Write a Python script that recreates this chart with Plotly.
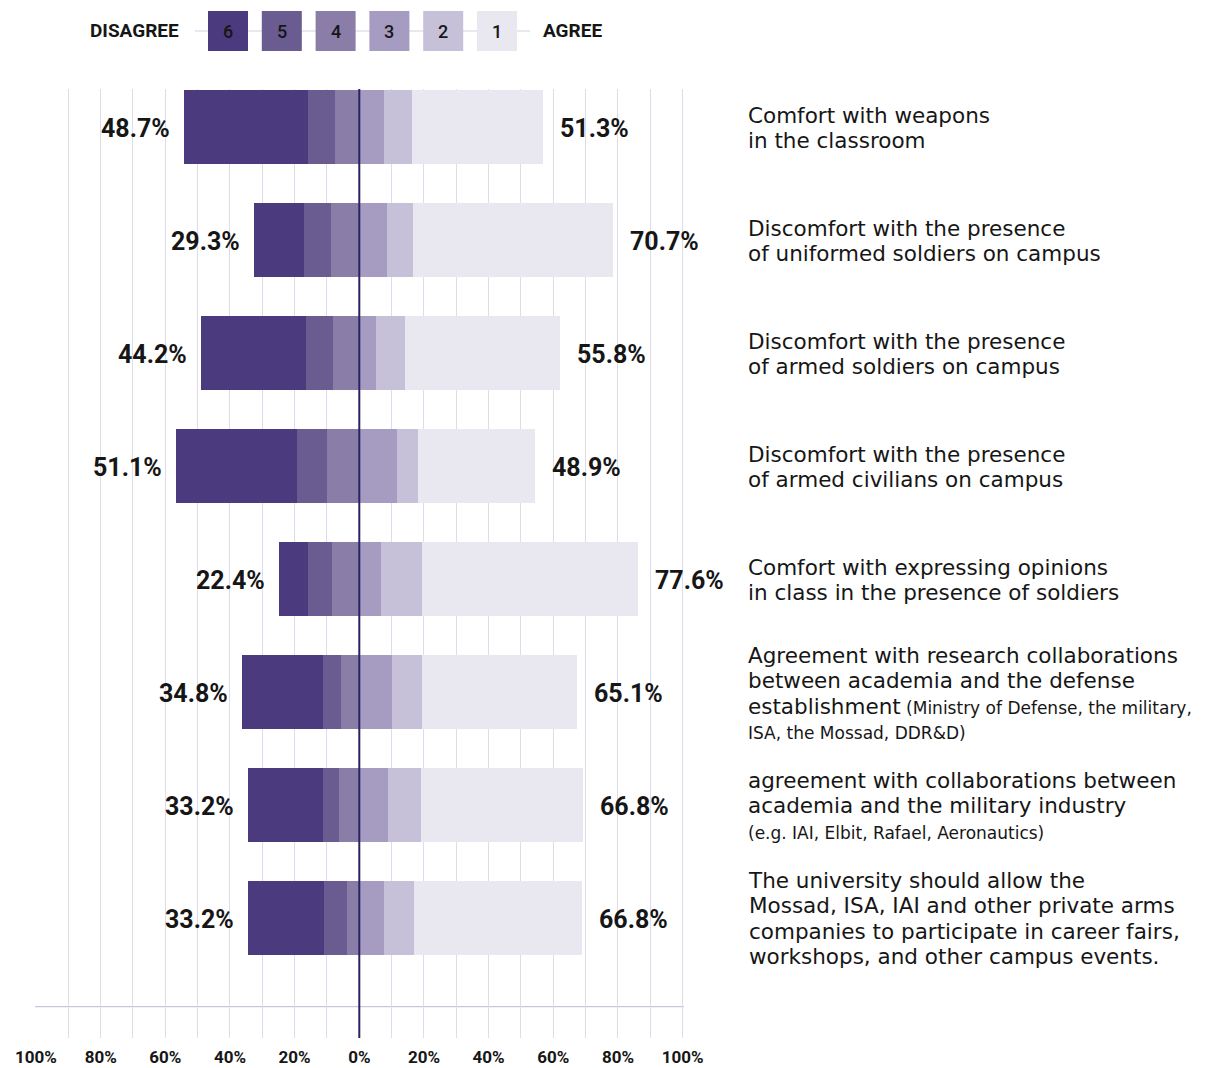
import plotly.graph_objects as go

# ---------------- data ----------------
levels = ["6", "5", "4", "3", "2", "1"]
colors = ["#4b3b7e", "#6a5b91", "#8a7ea8", "#a69bc0", "#c7c0d9", "#e9e7f0"]

# segment widths (percent) as drawn, top item first
seg6 = [34.5, 13.8, 29.4, 33.7, 8.2, 22.4, 20.7, 21.2]
seg5 = [7.3, 7.5, 7.5, 8.4, 6.6, 5.1, 4.6, 6.3]
seg4 = [6.9, 8.0, 7.3, 9.0, 7.6, 5.1, 5.6, 3.5]
seg3 = [6.9, 7.7, 4.6, 10.5, 6.1, 9.1, 8.1, 6.9]
seg2 = [7.7, 7.3, 8.1, 5.8, 11.5, 8.4, 9.0, 8.2]
seg1 = [36.7, 55.7, 43.1, 32.6, 60.0, 43.1, 45.1, 46.9]

disagree_pct = [48.7, 29.3, 44.2, 51.1, 22.4, 34.8, 33.2, 33.2]
agree_pct = [51.3, 70.7, 55.8, 48.9, 77.6, 65.1, 66.8, 66.8]

# each statement: list of (main text, small note) per line
statements = [
    [("Comfort with weapons", ""), ("in the classroom", "")],
    [("Discomfort with the presence", ""), ("of uniformed soldiers on campus", "")],
    [("Discomfort with the presence", ""), ("of armed soldiers on campus", "")],
    [("Discomfort with the presence", ""), ("of armed civilians on campus", "")],
    [("Comfort with expressing opinions", ""), ("in class in the presence of soldiers", "")],
    [("Agreement with research collaborations", ""), ("between academia and the defense", ""),
     ("establishment", " (Ministry of Defense, the military,"), ("", "ISA, the Mossad, DDR&D)")],
    [("agreement with collaborations between", ""), ("academia and the military industry", ""),
     ("", "(e.g. IAI, Elbit, Rafael, Aeronautics)")],
    [("The university should allow the", ""), ("Mossad, ISA, IAI and other private arms", ""),
     ("companies to participate in career fairs,", ""), ("workshops, and other campus events.", "")],
]

axis_ticks = [-100, -90, -80, -70, -60, -50, -40, -30, -20, -10, 0,
              10, 20, 30, 40, 50, 60, 70, 80, 90, 100]

# ---------------- layout constants ----------------
W, H = 1215, 1068
ML, MR, MT, MB = 35, 531, 89, 30
PW, PH = W - ML - MR, H - MT - MB
FONT = "Roboto"
SFONT = "DejaVu Sans"
TXT = "#161616"
BIG = 21.5       # main statement text size
SMALL = 17       # small note size
BASE = 19.6      # sets line spacing (1.3 * BASE)


def px2paper_x(px):
    return (px - ML) / PW


def px2paper_y(py):
    return (H - MB - py) / PH


def statement_html(lines):
    out = []
    for main, note in lines:
        s = ""
        if main:
            s += f"<span style='font-size:{BIG}px'>{main}</span>"
        if note:
            s += f"<span style='font-size:{SMALL}px'>{note}</span>"
        out.append(s)
    return "<br>".join(out)


ypos = list(range(len(seg6)))

fig = go.Figure()
neg_series = [(seg4, 2), (seg5, 1), (seg6, 0)]
pos_series = [(seg3, 3), (seg2, 4), (seg1, 5)]
for vals, ci in neg_series:
    fig.add_trace(go.Bar(y=ypos, x=[-v for v in vals], orientation="h", width=0.661,
                         marker=dict(color=colors[ci], line=dict(width=0)),
                         name=levels[ci], showlegend=False, hoverinfo="skip"))
for vals, ci in pos_series:
    fig.add_trace(go.Bar(y=ypos, x=vals, orientation="h", width=0.661,
                         marker=dict(color=colors[ci], line=dict(width=0)),
                         name=levels[ci], showlegend=False, hoverinfo="skip"))

# invisible trace to activate the grid / tick axis
fig.add_trace(go.Scatter(x=[-100, 100], y=[0, 0], xaxis="x2", mode="markers",
                         marker=dict(opacity=0), showlegend=False, hoverinfo="skip"))

annotations = []
for i in ypos:
    left_edge = -(seg4[i] + seg5[i] + seg6[i])
    right_edge = seg3[i] + seg2[i] + seg1[i]
    annotations.append(dict(x=left_edge, y=i, xref="x", yref="y", xanchor="right",
                            yanchor="middle", xshift=-12, yshift=-2, showarrow=False,
                            text=f"{disagree_pct[i]:.1f}%",
                            font=dict(family=FONT, size=25, color=TXT, weight="bold")))
    annotations.append(dict(x=right_edge, y=i, xref="x", yref="y", xanchor="left",
                            yanchor="middle", xshift=15, yshift=-2, showarrow=False,
                            text=f"{agree_pct[i]:.1f}%",
                            font=dict(family=FONT, size=25, color=TXT, weight="bold")))
    annotations.append(dict(x=px2paper_x(746), y=i, xref="paper", yref="y",
                            xanchor="left", yanchor="middle", showarrow=False,
                            yshift=-1, text=statement_html(statements[i]), align="left",
                            font=dict(family=SFONT, size=BASE, color=TXT)))

# legend
shapes = []
leg_y0, leg_y1 = 11, 51
shapes.append(dict(type="line", xref="paper", yref="paper",
                   x0=px2paper_x(195), x1=px2paper_x(530),
                   y0=px2paper_y(31), y1=px2paper_y(31),
                   line=dict(color="#d3cfe2", width=1.2), layer="below"))
for j, (lab, col) in enumerate(zip(levels, colors)):
    x0 = 208 + j * 53.8
    shapes.append(dict(type="rect", xref="paper", yref="paper",
                       x0=px2paper_x(x0), x1=px2paper_x(x0 + 40),
                       y0=px2paper_y(leg_y1), y1=px2paper_y(leg_y0),
                       fillcolor=col, line=dict(width=0), layer="above"))
    annotations.append(dict(x=px2paper_x(x0 + 20), y=px2paper_y(31), xref="paper",
                            yref="paper", xanchor="center", yanchor="middle",
                            showarrow=False, text=lab,
                            font=dict(family=FONT, size=18, color=TXT, weight=500)))
annotations.append(dict(x=px2paper_x(181), y=px2paper_y(30), xref="paper", yref="paper",
                        xanchor="right", yanchor="middle", showarrow=False, text="DISAGREE",
                        font=dict(family=FONT, size=19, color=TXT, weight="bold")))
annotations.append(dict(x=px2paper_x(541), y=px2paper_y(30), xref="paper", yref="paper",
                        xanchor="left", yanchor="middle", showarrow=False, text="AGREE",
                        font=dict(family=FONT, size=19, color=TXT, weight="bold")))

# axis base line and zero line
shapes.append(dict(type="line", xref="paper", yref="paper", x0=0, x1=1,
                   y0=px2paper_y(1006.7), y1=px2paper_y(1006.7),
                   line=dict(color="#bcb8d4", width=1), layer="below"))
shapes.append(dict(type="line", xref="x", yref="paper", x0=0, x1=0, y0=0, y1=1,
                   line=dict(color="#2b2262", width=2), layer="above"))

bar_scale = 3.59  # px per percent for bars
zero_px = 359.3
xr = [-(zero_px - ML) / bar_scale, (ML + PW - zero_px) / bar_scale]
grid_scale = 323.3 / 100  # px per percent for grid axis
gr = [-(zero_px - ML) / grid_scale, (ML + PW - zero_px) / grid_scale]

fig.update_layout(
    width=W, height=H,
    margin=dict(l=ML, r=MR, t=MT, b=MB, pad=0, autoexpand=False),
    paper_bgcolor="white", plot_bgcolor="white",
    barmode="relative", bargap=0,
    xaxis=dict(range=xr, visible=False, showgrid=False, zeroline=False,
               fixedrange=True, automargin=False),
    xaxis2=dict(range=gr, overlaying="x", side="bottom", anchor="y", automargin=False,
                tickvals=axis_ticks,
                ticktext=[f"{abs(v)}%" if v % 20 == 0 else "" for v in axis_ticks],
                showgrid=True, gridcolor="#dedbeb", gridwidth=1,
                zeroline=False, showline=False, ticks="", ticklabelstandoff=7,
                tickfont=dict(family=FONT, size=17, color=TXT, weight="bold")),
    yaxis=dict(range=[8.062, -0.336], visible=False, showgrid=False, zeroline=False,
               automargin=False),
    annotations=annotations,
    shapes=shapes,
    showlegend=False,
)

fig.write_html("out.html", config={"displayModeBar": False},
               post_script="document.body.style.margin='0px';")
